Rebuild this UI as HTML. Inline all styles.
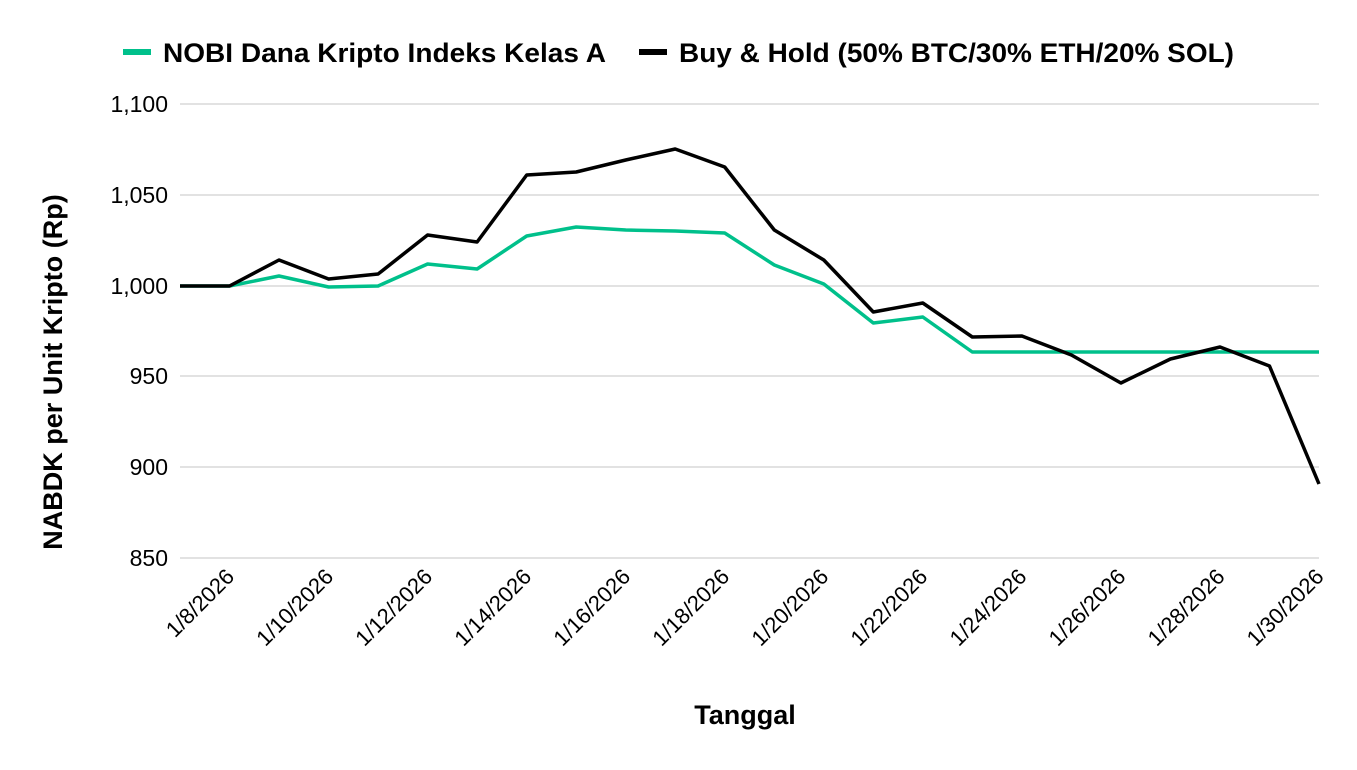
<!DOCTYPE html>
<html><head><meta charset="utf-8"><style>
html,body{margin:0;padding:0;background:#fff;}
svg{display:block;font-family:"Liberation Sans",Arial,sans-serif;}
</style></head><body>
<svg width="1357" height="770" viewBox="0 0 1357 770" xmlns="http://www.w3.org/2000/svg">
<g stroke="#d0d0d0" stroke-width="1.3">
<line x1="180" y1="104" x2="1319" y2="104"/>
<line x1="180" y1="195" x2="1319" y2="195"/>
<line x1="180" y1="286" x2="1319" y2="286"/>
<line x1="180" y1="376" x2="1319" y2="376"/>
<line x1="180" y1="467" x2="1319" y2="467"/>
<line x1="180" y1="558" x2="1319" y2="558"/>
</g>
<g font-size="23" fill="#000" text-anchor="end">
<text x="168" y="112">1,100</text>
<text x="168" y="203">1,050</text>
<text x="168" y="294">1,000</text>
<text x="168" y="384">950</text>
<text x="168" y="475">900</text>
<text x="168" y="566">850</text>
</g>
<g font-size="22" fill="#000" text-anchor="end" id="xl"></g>
<polyline id="g" fill="none" stroke="#00c08b" stroke-width="3.5" stroke-linejoin="round"/>
<polyline id="b" fill="none" stroke="#000" stroke-width="3.5" stroke-linejoin="round"/>
<text transform="translate(62,372) rotate(-90)" font-size="27" font-weight="bold" text-anchor="middle">NABDK per Unit Kripto (Rp)</text>
<text x="745" y="724" font-size="27" font-weight="bold" text-anchor="middle">Tanggal</text>
<rect x="123" y="49" width="28" height="6" fill="#00c08b"/>
<text x="163" y="62" font-size="27" font-weight="bold" textLength="443" lengthAdjust="spacingAndGlyphs">NOBI Dana Kripto Indeks Kelas A</text>
<rect x="639" y="49" width="28" height="6" fill="#000"/>
<text x="679" y="62" font-size="27" font-weight="bold" textLength="555" lengthAdjust="spacingAndGlyphs">Buy &amp; Hold (50% BTC/30% ETH/20% SOL)</text>
</svg>
<script>
var b=[286,286,260,279,274,235,242,175,172,160,149,167,230,260,312,303,337,336,355,383,359,347,366,484];
var g=[286,286,276,287,286,264,269,236,227,230,231,233,265,284,323,317,352,352,352,352,352,352,352,352];
var dx=(1319-180)/23;
function pts(a){return a.map(function(y,i){return (180+i*dx).toFixed(1)+","+y}).join(" ");}
document.getElementById("b").setAttribute("points",pts(b));
document.getElementById("g").setAttribute("points",pts(g));
var labs=["1/8/2026","1/10/2026","1/12/2026","1/14/2026","1/16/2026","1/18/2026","1/20/2026","1/22/2026","1/24/2026","1/26/2026","1/28/2026","1/30/2026"];
var xl=document.getElementById("xl"),h="";
labs.forEach(function(l,k){var x=180+(k*2+1)*dx+6;h+='<text transform="translate('+x.toFixed(1)+',578) rotate(-45)">'+l+'</text>';});
xl.innerHTML=h;
</script>
</body></html>
